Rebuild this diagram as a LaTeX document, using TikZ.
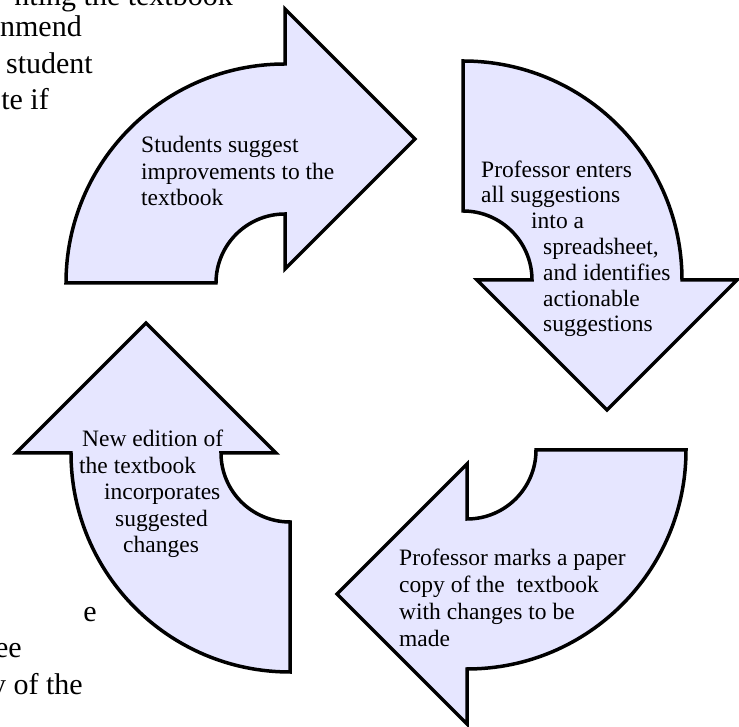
\documentclass[tikz,border=0pt]{standalone}
\usepackage{fontspec}
\setmainfont{Liberation Serif}
\usepackage{tikz}
\usetikzlibrary{positioning}
\definecolor{cyclefill}{HTML}{E6E6FF}
\tikzset{
  cyclearrow/.style={draw=black, fill=cyclefill, line width=3.5pt},
  steptext/.style={font=\fontsize{23.5}{26.5}\selectfont, align=left, inner sep=0pt, anchor=base west},
  pagetext/.style={font=\fontsize{30}{35}\selectfont, inner sep=0pt, anchor=base east}
}

\begin{document}
\begin{tikzpicture}[x=1pt,y=1pt]
  \useasboundingbox (0,0) rectangle (739,727);
  \clip (0,0) rectangle (739,727);
  % page text around the figure
  \node[pagetext] (pline1) at (233,721) {nting the textbook};
  \node[pagetext] (pline2) at (82,690) {nmend};
  \node[pagetext] (pline3) at (93,653) {student};
  \node[pagetext] (pline4) at (49,617) {te if};
  \node[pagetext] (pline5) at (97,105) {e};
  \node[pagetext] (pline6) at (22,69) {ee};
  \node[pagetext] (pline7) at (83,32) {y of the};
  % the four curved arrows
  \draw[cyclearrow] (66,444) arc[start angle=180,end angle=90,radius=219pt] -- (285,718) -- (415,588) -- (285,458) -- (285,513) arc[start angle=90,end angle=180,radius=69pt] -- cycle;
  \draw[cyclearrow] (463,666) arc[start angle=90,end angle=0,radius=219pt] -- (737,447) -- (607,317) -- (477,447) -- (532,447) arc[start angle=0,end angle=90,radius=69pt] -- cycle;
  \draw[cyclearrow] (686,277) arc[start angle=0,end angle=-90,radius=219pt] -- (467,3) -- (337,133) -- (467,263) -- (467,208) arc[start angle=-90,end angle=0,radius=69pt] -- cycle;
  \draw[cyclearrow] (290,55) arc[start angle=-90,end angle=-180,radius=219pt] -- (16,274) -- (146,404) -- (276,274) -- (221,274) arc[start angle=180,end angle=270,radius=69pt] -- cycle;
  % step texts (anchored at the baseline of the last line)
  \node[steptext] (suggest) at (141,521) {Students suggest\\improvements to the\\textbook};
  \node[steptext, font=\fontsize{23.5}{25.8}\selectfont] (enter) at (481,395) {Professor enters\\all suggestions\\\hspace*{50pt}into a\\\hspace*{62pt}spreadsheet,\\\hspace*{62pt}and identifies\\\hspace*{62pt}actionable\\\hspace*{62pt}suggestions};
  \node[steptext, font=\fontsize{23.5}{27.3}\selectfont] (mark) at (399,80) {Professor marks a paper\\copy of the\ \ textbook\\with changes to be\\made};
  \node[steptext] (edition) at (79,174) {\hspace*{3pt}New edition of\\the textbook\\\hspace*{25pt}incorporates\\\hspace*{36pt}suggested\\\hspace*{44pt}changes};
\end{tikzpicture}
\end{document}
